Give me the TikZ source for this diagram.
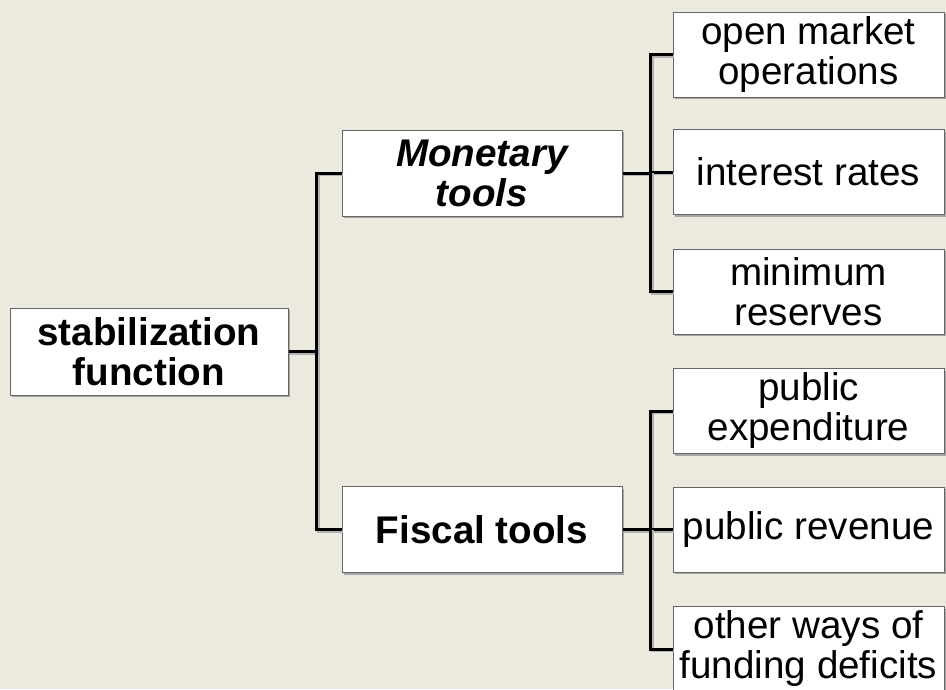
\documentclass[tikz,border=0pt]{standalone}
\usepackage{fontspec}
\setmainfont{Liberation Sans}
\usetikzlibrary{shadows}

\definecolor{paper}{RGB}{236,233,223}

\tikzset{
  box/.style = {draw = gray!80!black, line width = 1pt, fill = white,
    inner sep = 0pt, align = center,
    font = \fontsize{38.6}{40}\selectfont,
    drop shadow = {shadow xshift = 2pt, shadow yshift = -2pt,
      fill = gray!70, opacity = 1}},
  rootbox/.style = {box, minimum width = 278pt, minimum height = 87pt},
  toolbox/.style = {box, minimum width = 280pt, minimum height = 86pt},
  leafbox/.style = {box, minimum width = 271pt, minimum height = 85pt},
  link/.style = {line width = 3pt,
    preaction = {draw = gray!60, line width = 3pt,
      transform canvas = {xshift = 1.5pt, yshift = -1.5pt}}}
}

\begin{document}
\begin{tikzpicture}[x = 1pt, y = -1pt]

  % background
  \fill[paper] (0, 0) rectangle (946, 689);
  \useasboundingbox (0, 0) rectangle (946, 689);

  % left part
  \node[rootbox, font = \fontsize{38.6}{40}\selectfont\bfseries] (root) at (149, 351.5) {stabilization\\function};

  % instruments
  \node[toolbox, font = \fontsize{38.6}{40}\selectfont\bfseries\itshape] (mon) at (482, 173) {Monetary\\tools};
  \node[toolbox, font = \fontsize{38.6}{40}\selectfont\bfseries] (fis) at (482, 529.5) {Fiscal tools};

  % monetary leaves
  \node[leafbox] (omo) at (808.5, 54.5) {open market\\operations};
  \node[leafbox] (rate) at (808.5, 172) {interest rates};
  \node[leafbox] (res) at (808.5, 291.5) {minimum\\reserves};

  % fiscal leaves
  \node[leafbox] (exp) at (808.5, 411) {public\\expenditure};
  \node[leafbox] (rev) at (808.5, 529.5) {public revenue};
  \node[leafbox] (def) at (808.5, 649) {other ways of\\funding deficits};

  % brackets
  \draw[link] (root.east) -- ++(28, 0) |- (mon.west);
  \draw[link] (root.east) -- ++(28, 0) |- (fis.west);

  \draw[link] (mon.east) -- ++(28, 0) |- (omo.west);
  \draw[link] (mon.east) -- ++(28, 0) |- (rate.west);
  \draw[link] (mon.east) -- ++(28, 0) |- (res.west);

  \draw[link] (fis.east) -- ++(28, 0) |- (exp.west);
  \draw[link] (fis.east) -- ++(28, 0) |- (rev.west);
  \draw[link] (fis.east) -- ++(28, 0) |- (def.west);

\end{tikzpicture}
\end{document}
